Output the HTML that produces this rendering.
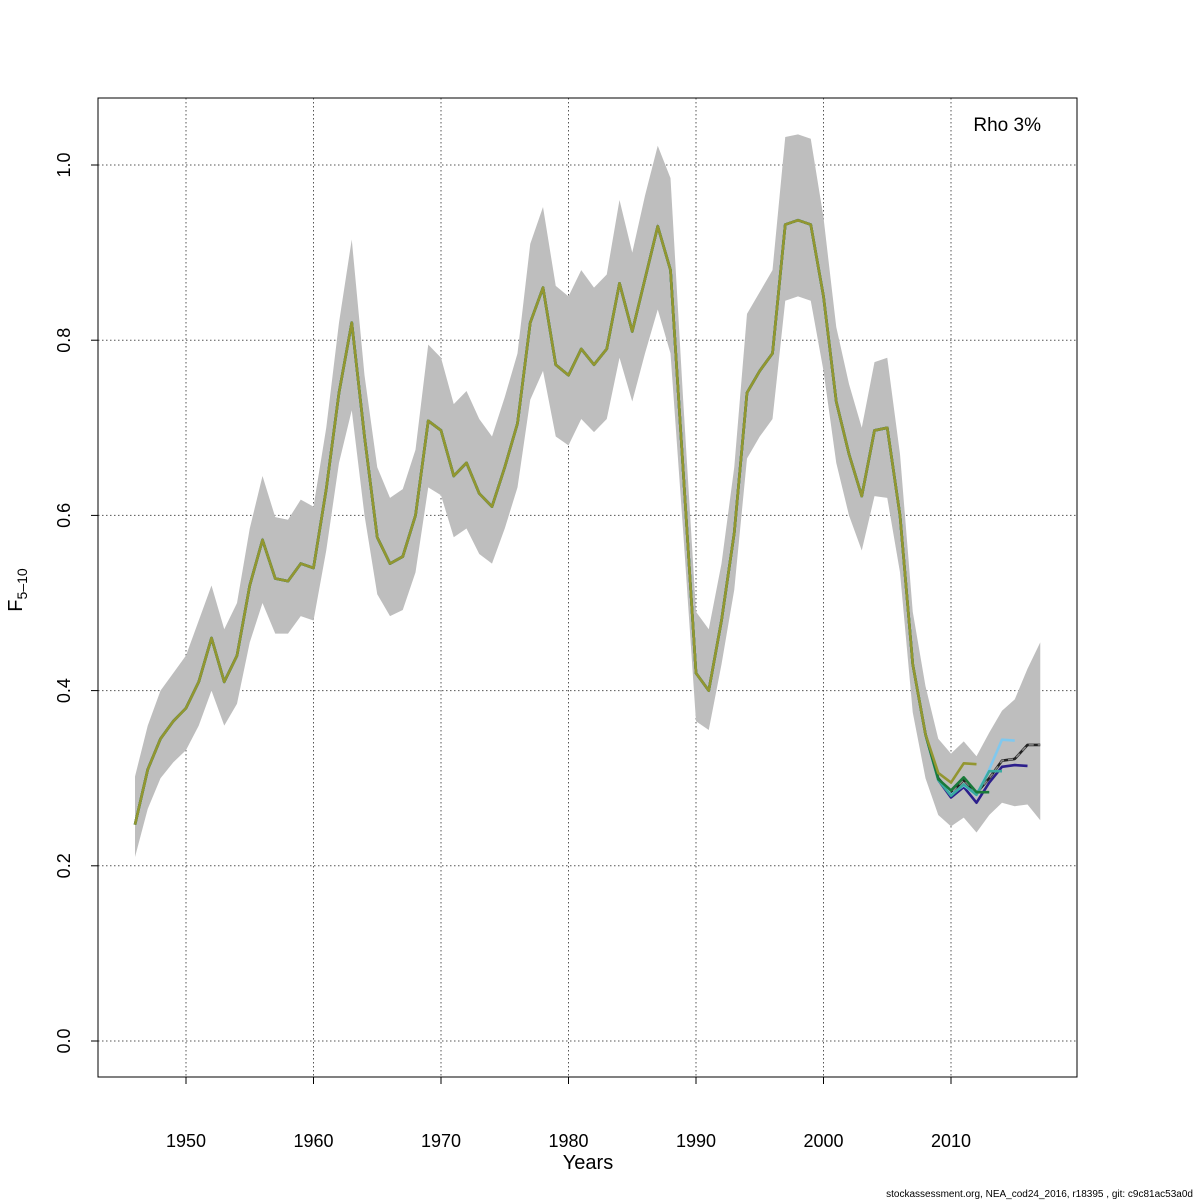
<!DOCTYPE html>
<html><head><meta charset="utf-8"><style>
body{margin:0;background:#fff}
svg{display:block;font-family:"Liberation Sans",sans-serif}
</style></head><body>
<svg id="chart" width="1200" height="1200" viewBox="0 0 1200 1200">
<g id="grid"></g>
<g id="band"></g>
<g id="lines"></g>
<rect x="98" y="98" width="979" height="979" fill="none" stroke="#000" stroke-width="1"/>
<g id="axes"></g>
<text x="588" y="1169" font-size="20" text-anchor="middle">Years</text>
<text transform="translate(22,590) rotate(-90)" font-size="20" text-anchor="middle">F<tspan font-size="14" dy="5">5–10</tspan></text>
<text x="1041" y="131" font-size="19" text-anchor="end">Rho 3%</text>
<text x="1193" y="1197" font-size="10" text-anchor="end">stockassessment.org, NEA_cod24_2016, r18395 , git: c9c81ac53a0d</text>
</svg>
<script>
const years=[];for(let y=1946;y<=2017;y++)years.push(y);
const fMain=[0.247,0.31,0.345,0.365,0.38,0.41,0.46,0.41,0.44,0.52,0.572,0.528,0.525,0.545,0.54,0.63,0.74,0.82,0.69,0.575,0.545,0.553,0.6,0.708,0.697,0.645,0.66,0.625,0.61,0.655,0.705,0.82,0.86,0.772,0.76,0.79,0.772,0.79,0.865,0.81,0.87,0.93,0.88,0.65,0.42,0.4,0.48,0.58,0.74,0.765,0.785,0.932,0.937,0.932,0.85,0.73,0.67,0.622,0.697,0.7,0.6,0.43,0.35,0.3,0.283,0.298,0.283,0.3,0.32,0.322,0.338,0.338];
const fUpper=[0.302,0.36,0.4,0.42,0.44,0.48,0.52,0.47,0.5,0.585,0.645,0.598,0.595,0.618,0.61,0.7,0.82,0.915,0.76,0.655,0.62,0.63,0.675,0.795,0.78,0.727,0.742,0.71,0.69,0.735,0.785,0.91,0.952,0.862,0.85,0.88,0.86,0.875,0.96,0.9,0.965,1.022,0.985,0.73,0.49,0.47,0.545,0.655,0.83,0.855,0.88,1.032,1.035,1.03,0.94,0.815,0.75,0.7,0.775,0.78,0.67,0.49,0.405,0.345,0.328,0.342,0.325,0.352,0.377,0.39,0.425,0.455];
const fLower=[0.21,0.265,0.3,0.318,0.332,0.36,0.4,0.36,0.385,0.455,0.5,0.465,0.465,0.485,0.48,0.56,0.66,0.72,0.6,0.51,0.485,0.492,0.535,0.632,0.623,0.575,0.585,0.556,0.545,0.585,0.632,0.732,0.765,0.69,0.68,0.71,0.695,0.71,0.78,0.73,0.785,0.835,0.785,0.58,0.365,0.355,0.43,0.515,0.665,0.69,0.71,0.845,0.85,0.845,0.765,0.66,0.6,0.56,0.622,0.62,0.535,0.375,0.3,0.258,0.245,0.255,0.238,0.258,0.272,0.268,0.27,0.252];
const peelNavyEnd=2016, peelNavyTail=[0.298,0.278,0.29,0.272,0.295,0.313,0.315,0.314];
const peelBlueEnd=2015, peelBlueTail=[0.298,0.281,0.292,0.281,0.31,0.344,0.343];
const peelTealEnd=2014, peelTealTail=[0.298,0.28,0.293,0.281,0.308,0.308];
const peelGreenEnd=2013, peelGreenTail=[0.299,0.286,0.301,0.284,0.284];
const peelOliveEnd=2012, peelOliveTail=[0.306,0.295,0.317,0.316];
const xTicks=[1950,1960,1970,1980,1990,2000,2010];
const yTicks=[0,0.2,0.4,0.6,0.8,1.0];
const yTickLabels=["0.0","0.2","0.4","0.6","0.8","1.0"];

const X=y=>186+(y-1950)*12.75;
const Y=v=>1041-v*876;
const NS="http://www.w3.org/2000/svg";
function mk(tag,parent,attrs){const e=document.createElementNS(NS,tag);for(const k in attrs)e.setAttribute(k,attrs[k]);parent.appendChild(e);return e;}
const grid=document.getElementById('grid'),axes=document.getElementById('axes'),band=document.getElementById('band'),lines=document.getElementById('lines');
xTicks.forEach((t,i)=>{
  const g=mk('line',grid,{x1:X(t),x2:X(t),y1:98,y2:1077,stroke:'#555','stroke-dasharray':'1.5,2.5','stroke-width':1});
  
  
  const tk=mk('line',axes,{x1:X(t),x2:X(t),y1:1077,y2:1084,stroke:'#000'});
  
  
  const tx=mk('text',axes,{x:X(t),y:1147,'font-size':18,'text-anchor':'middle'});tx.textContent=t;
  
  
});
yTicks.forEach((t,i)=>{
  const g=mk('line',grid,{x1:98,x2:1077,y1:Y(t),y2:Y(t),stroke:'#555','stroke-dasharray':'1.5,2.5','stroke-width':1});
  
  
  const tk=mk('line',axes,{x1:91,x2:98,y1:Y(t),y2:Y(t),stroke:'#000'});
  
  
  const tx=mk('text',axes,{transform:`translate(70,${Y(t)}) rotate(-90)`,'font-size':18,'text-anchor':'middle'});tx.textContent=yTickLabels[i];
  
  
});
let d='';years.forEach((y,i)=>d+=(i?'L':'M')+X(y)+','+Y(fUpper[i]));
for(let i=years.length-1;i>=0;i--)d+='L'+X(years[i])+','+Y(fLower[i]);
const bp=mk('path',band,{d:d+'Z',fill:'#bebebe',stroke:'none'});


function series(end,tail){const out=[];years.forEach((y,i)=>{if(y>end)return;let v=fMain[i];if(y>=2009)v=tail[y-2009];out.push([y,v]);});return out;}
function draw(pts,color,name,dash){
  const dd=pts.map((p,i)=>(i?'L':'M')+X(p[0])+','+Y(p[1])).join('');
  const p=mk('path',lines,{d:dd,fill:'none',stroke:color,'stroke-width':2.6,'stroke-linejoin':'round'});
  
  
  if(dash){const p2=mk('path',lines,{d:dd,fill:'none',stroke:'#888','stroke-width':1.5,'stroke-dasharray':'5,4'});
    
    }
}
draw(years.map((y,i)=>[y,fMain[i]]),'#222','base-run-line',true);
draw(series(peelNavyEnd,peelNavyTail),'#2c1f8c','peel-1-line');
draw(series(peelBlueEnd,peelBlueTail),'#80c8ee','peel-2-line');
draw(series(peelTealEnd,peelTealTail),'#3aaaa0','peel-3-line');
draw(series(peelGreenEnd,peelGreenTail),'#1a7a3a','peel-4-line');
draw(series(peelOliveEnd,peelOliveTail),'#939630','peel-5-line');
</script>
</body></html>
